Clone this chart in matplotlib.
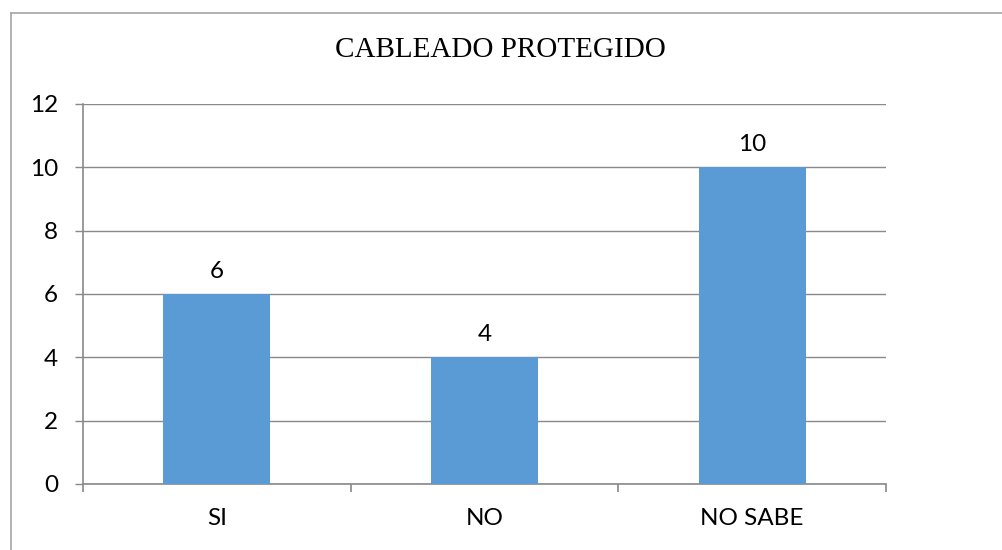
import matplotlib
matplotlib.use("Agg")
import matplotlib.pyplot as plt
from matplotlib.lines import Line2D

categories = ["SI", "NO", "NO SABE"]
values = [6, 4, 10]
yticks = [0, 2, 4, 6, 8, 10, 12]
title = "CABLEADO PROTEGIDO"

bar_color = "#5B9BD5"
grid_color = "#898989"
label_font = "Lato"
fs = 17.5

fig = plt.figure(figsize=(10.02, 5.5), dpi=100)
ax = fig.add_axes([83/1002, 1-484/550, (886-83)/1002, (484-104)/550])

x = list(range(len(categories)))
ax.bar(x, values, width=0.4, color=bar_color, zorder=3)
ax.set_xlim(-0.5, len(categories)-0.5)
ax.set_ylim(0, 12)
ax.set_yticks(yticks)
ax.set_yticklabels([str(t) for t in yticks], fontfamily=label_font, fontsize=fs)
ax.yaxis.grid(True, color=grid_color, linewidth=1.0, zorder=0)

ax.set_xticks([i - 0.5 for i in range(len(categories)+1)])
ax.set_xticklabels([""] * (len(categories)+1))
ax.set_xticks(x, minor=True)
ax.set_xticklabels(categories, minor=True, fontfamily=label_font, fontsize=fs)
ax.tick_params(axis="x", which="minor", length=0, pad=17)
ax.tick_params(axis="x", which="major", length=6, color=grid_color, width=1.2, direction="out")
ax.tick_params(axis="y", length=6, color=grid_color, width=1.0, pad=12)

for s in ["top", "right"]:
    ax.spines[s].set_visible(False)
for s in ["left", "bottom"]:
    ax.spines[s].set_color(grid_color)
    ax.spines[s].set_linewidth(1.2)

for xi, v in zip(x, values):
    ax.annotate(str(v), (xi, v), xytext=(0, 9), textcoords="offset points",
                ha="center", va="bottom", fontfamily=label_font, fontsize=fs)

fig.text(500/1002, 1-50/550, title, ha="center", va="center",
         fontfamily="Liberation Serif", fontsize=21)

# outer border (left and top visible)
fig.add_artist(Line2D([11/1002, 11/1002], [0, 1-13/550], transform=fig.transFigure,
                      color="#a6a6a6", linewidth=1.2))
fig.add_artist(Line2D([11/1002, 1], [1-13/550, 1-13/550], transform=fig.transFigure,
                      color="#a6a6a6", linewidth=1.2))

fig.savefig("out.png", dpi=100)
